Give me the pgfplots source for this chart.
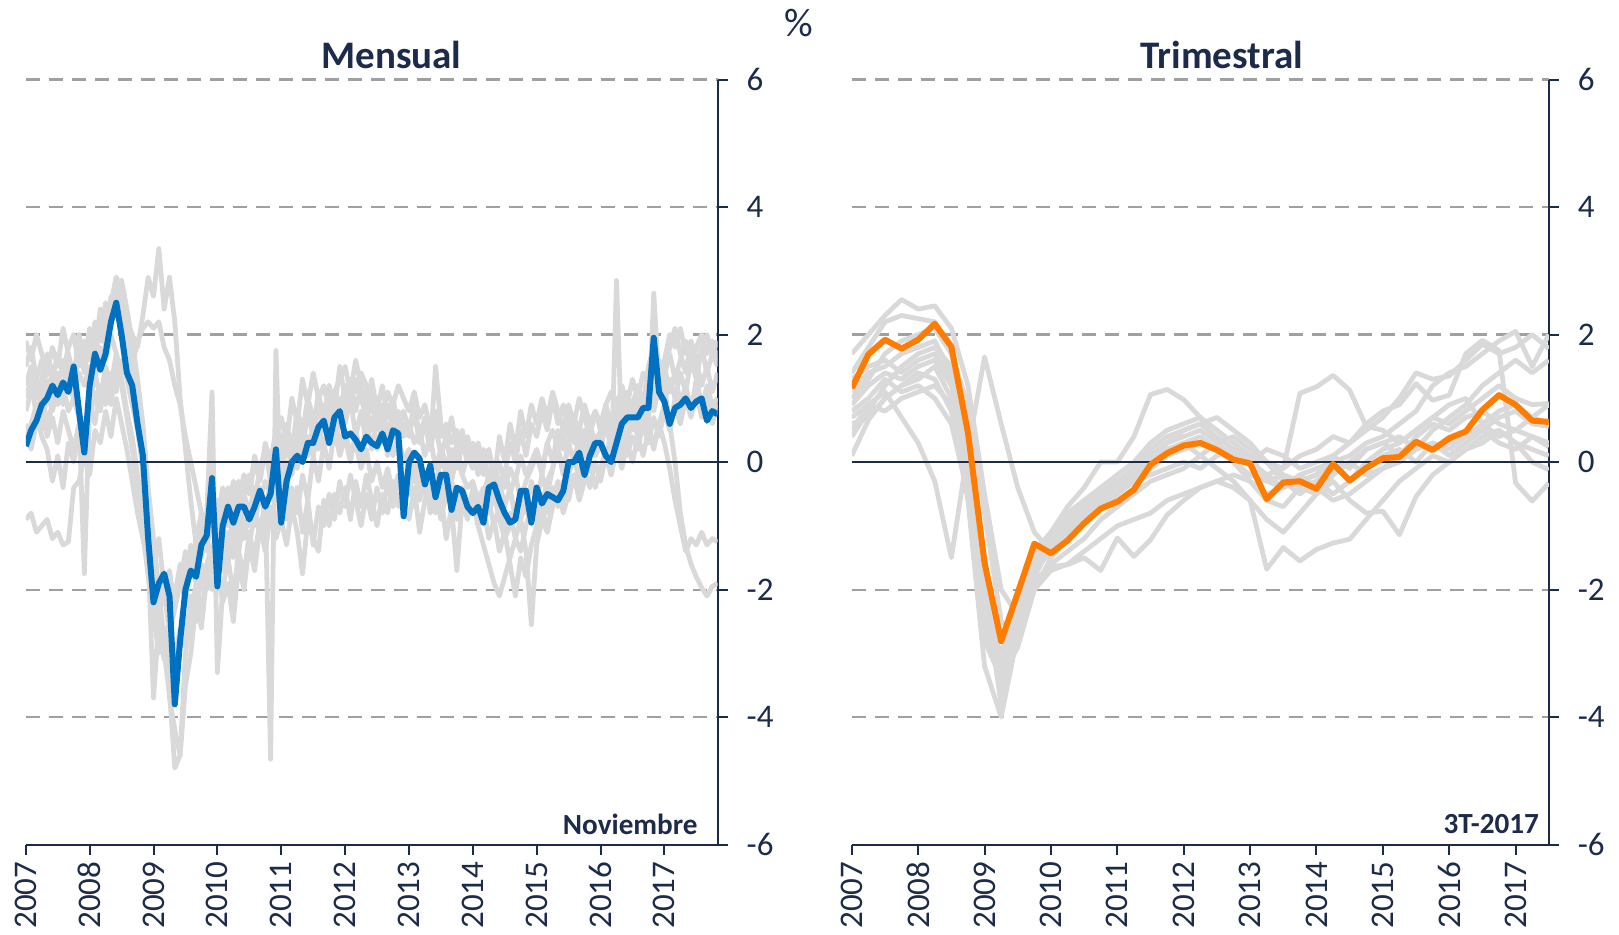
\documentclass[border=0pt]{standalone}
\usepackage{fontspec}
\setmainfont{Carlito}
\usepackage{pgfplots}
\pgfplotsset{compat=1.18}
\definecolor{navy}{HTML}{1D2B4B}
\definecolor{cblue}{HTML}{0070C0}
\definecolor{corange}{HTML}{FF7C00}
\definecolor{glight}{HTML}{D9D9D9}
\definecolor{gridc}{HTML}{A0A0A0}
\pgfplotsset{
 panel/.style={scale only axis, height=382.5pt, ymin=-6, ymax=6,
   axis x line*=bottom, axis y line*=right,
   ytick={-6,-4,-2,0,2,4,6}, yticklabels={-6,-4,-2,0,2,4,6},
   xticklabels={2007,2008,2009,2010,2011,2012,2013,2014,2015,2016,2017},
   tick align=outside, major tick length=5pt,
   ymajorgrids, major grid style={gridc, line width=1.1pt, dash pattern=on 7pt off 4.5pt},
   axis line style={navy, line width=1pt},
   tick style={navy, line width=1pt},
   tick label style={font=\fontsize{16.5}{18}\selectfont, text=navy},
   x tick label style={rotate=90, anchor=east},
   yticklabel style={anchor=west, xshift=6pt},
 },
 gr/.style={glight, line width=2.4pt, line join=round, no markers},
 ml/.style={line width=3pt, line join=round, no markers},
}
\begin{document}
\begin{tikzpicture}
\path[use as bounding box] (0,0) rectangle (809.5pt,467pt);
% ---------------- Mensual ----------------
\begin{axis}[panel, at={(12.9pt,44.7pt)}, anchor=south west, width=345.9pt,
  xmin=0, xmax=130, xtick={0,12,...,120}]
\addplot[gr] table[row sep=\\, x expr=\coordindex, y=v]{v\\
0.8\\1.1\\1.3\\1.0\\1.5\\1.3\\1.7\\1.4\\1.8\\2.0\\1.5\\1.6\\
1.8\\2.0\\1.9\\2.3\\2.5\\2.9\\2.7\\2.2\\2.0\\1.8\\2.3\\2.9\\
2.6\\3.35\\2.4\\2.9\\2.2\\1.0\\0.2\\-0.6\\-1.3\\-1.5\\-0.9\\-1.1\\
-0.6\\-0.9\\-0.4\\-0.8\\-0.3\\-0.5\\-0.2\\-0.6\\-0.1\\0.2\\-0.3\\0.1\\
0.3\\0.6\\0.2\\0.8\\0.5\\1.0\\0.7\\0.4\\0.9\\0.6\\1.1\\0.8\\
1.2\\0.9\\1.3\\1.0\\0.7\\1.1\\0.8\\0.6\\0.9\\0.5\\0.8\\0.4\\
0.6\\0.3\\0.5\\0.1\\0.4\\-0.1\\0.2\\0.0\\-0.3\\0.1\\-0.2\\-0.4\\
-0.3\\-0.6\\-0.4\\-0.8\\-0.5\\-0.9\\-1.2\\-1.0\\-0.7\\-0.9\\-0.6\\-0.8\\
-0.5\\-0.7\\-0.3\\-0.1\\0.2\\-0.1\\0.3\\0.5\\0.1\\0.4\\0.6\\0.3\\
0.5\\0.8\\0.4\\0.7\\1.0\\0.6\\0.9\\1.2\\0.8\\1.1\\1.3\\1.0\\
1.4\\1.7\\1.3\\1.6\\1.9\\1.5\\1.8\\2.0\\1.7\\1.9\\1.6\\};
\addplot[gr] table[row sep=\\, x expr=\coordindex, y=v]{v\\
1.2\\1.5\\1.0\\1.3\\1.7\\1.4\\1.1\\1.6\\1.3\\1.0\\1.4\\1.2\\
1.5\\1.3\\1.8\\1.6\\2.0\\1.7\\1.4\\1.8\\1.5\\1.9\\2.1\\2.2\\
2.1\\2.2\\1.8\\1.6\\1.2\\0.9\\0.4\\0.0\\-0.4\\-0.8\\-1.1\\-0.9\\
-1.2\\-0.8\\-1.0\\-0.7\\-0.9\\-0.5\\-0.8\\-0.4\\-0.6\\-0.3\\-0.5\\-0.2\\
-0.4\\0.0\\-0.2\\0.3\\0.0\\0.4\\0.1\\0.5\\0.2\\0.7\\0.4\\0.6\\
0.9\\1.3\\1.1\\1.4\\1.2\\0.8\\1.0\\0.7\\1.1\\0.9\\1.2\\1.0\\
0.8\\1.1\\0.7\\0.9\\0.5\\0.8\\0.4\\0.6\\0.3\\0.5\\0.2\\0.4\\
0.1\\0.3\\-0.1\\0.2\\-0.2\\0.0\\-0.4\\-0.1\\-0.3\\0.1\\-0.2\\0.0\\
0.2\\-0.1\\0.3\\0.5\\0.2\\0.6\\0.4\\0.7\\0.5\\0.9\\0.6\\0.8\\
0.6\\0.9\\1.1\\0.8\\1.2\\0.9\\1.3\\1.0\\1.4\\1.2\\1.5\\1.3\\
1.6\\2.0\\1.8\\2.1\\1.7\\1.9\\1.5\\1.8\\2.0\\1.7\\1.9\\};
\addplot[gr] table[row sep=\\, x expr=\coordindex, y=v]{v\\
0.3\\0.6\\0.9\\0.5\\1.1\\0.8\\1.2\\0.9\\1.5\\1.2\\1.8\\1.4\\
1.9\\1.6\\2.2\\1.8\\2.4\\2.9\\2.6\\2.0\\1.5\\0.8\\-0.2\\-1.5\\
-3.7\\-2.5\\-3.0\\-3.6\\-4.8\\-4.6\\-3.0\\-2.4\\-1.9\\-2.5\\-1.6\\-1.3\\
-1.5\\-1.0\\-1.4\\-0.8\\-1.2\\-0.6\\-1.0\\-0.7\\-0.4\\-0.8\\-0.3\\-0.6\\
-0.2\\0.3\\-0.1\\0.5\\0.2\\0.8\\0.4\\0.9\\0.5\\1.2\\0.7\\1.0\\
0.6\\1.0\\0.4\\0.8\\0.3\\0.7\\0.2\\0.6\\0.1\\0.5\\0.3\\0.0\\
0.2\\-0.3\\0.1\\-0.5\\-0.2\\-0.7\\-0.3\\-0.6\\-0.4\\-0.9\\-0.5\\-0.8\\
-0.6\\-1.0\\-0.7\\-1.2\\-0.9\\-1.4\\-1.1\\-1.6\\-2.1\\-1.5\\-1.8\\-1.3\\
-1.0\\-0.7\\-1.1\\-0.6\\-0.3\\-0.7\\-0.2\\0.1\\-0.3\\0.2\\0.5\\0.1\\
0.3\\0.0\\0.4\\0.7\\0.3\\0.8\\0.5\\1.0\\0.6\\1.1\\0.8\\1.2\\
0.9\\1.3\\1.0\\1.4\\1.1\\1.6\\1.3\\1.8\\1.4\\1.7\\1.5\\};
\addplot[gr] table[row sep=\\, x expr=\coordindex, y=v]{v\\
-0.9\\-0.8\\-1.1\\-1.0\\-0.9\\-1.2\\-1.1\\-1.3\\-1.25\\-0.4\\-0.3\\0.1\\
-0.2\\0.5\\0.3\\0.8\\0.4\\1.0\\0.6\\0.2\\-0.3\\-0.8\\-1.2\\-1.6\\
-2.0\\-2.6\\-3.1\\-2.7\\-3.3\\-2.9\\-2.4\\-2.8\\-2.0\\-1.6\\-1.9\\-1.4\\
-1.8\\-1.2\\-1.6\\-1.0\\-1.4\\-0.9\\-1.3\\-0.8\\-1.1\\-0.6\\-4.66\\1.75\\
-0.8\\-0.3\\-0.9\\-0.4\\-1.1\\-0.6\\-1.3\\-0.7\\-1.0\\-0.5\\-0.9\\-0.3\\
-0.7\\-0.2\\-0.6\\-1.0\\-0.5\\-0.9\\-0.4\\-0.8\\-0.3\\-0.7\\-0.2\\-0.6\\
-0.9\\-0.4\\-1.1\\-0.6\\-0.3\\-0.8\\-0.5\\-1.2\\-0.7\\-1.7\\-0.6\\-0.9\\
-0.4\\-0.8\\-0.5\\-0.2\\-0.6\\-0.3\\-0.7\\-0.4\\-0.9\\-0.5\\-0.8\\-0.3\\
-0.6\\-0.2\\-0.5\\-0.1\\0.2\\-0.2\\0.3\\0.0\\0.4\\0.1\\0.5\\0.2\\
0.4\\0.0\\0.5\\0.2\\0.6\\0.3\\0.7\\0.4\\0.8\\0.5\\0.3\\0.6\\
0.3\\-0.1\\-0.6\\-1.0\\-1.4\\-1.2\\-1.3\\-1.1\\-1.3\\-1.2\\-1.25\\};
\addplot[gr] table[row sep=\\, x expr=\coordindex, y=v]{v\\
0.5\\0.2\\0.6\\0.9\\0.4\\0.7\\0.3\\0.8\\0.5\\0.2\\0.6\\0.4\\
0.9\\0.6\\1.2\\0.9\\1.4\\1.1\\1.6\\1.3\\0.9\\0.5\\-0.1\\-0.8\\
-1.6\\-1.2\\-2.0\\-1.7\\-2.3\\-1.9\\-1.4\\-1.8\\-1.2\\-0.8\\-1.1\\-0.6\\
-0.9\\-0.4\\-0.8\\-0.3\\-0.6\\-0.2\\-0.5\\0.0\\-0.3\\0.2\\-0.1\\0.3\\
0.0\\0.5\\0.2\\0.7\\0.3\\0.9\\0.5\\1.1\\0.6\\1.2\\0.8\\1.5\\
1.0\\1.3\\0.8\\1.2\\0.6\\1.0\\0.5\\0.9\\0.4\\0.8\\0.3\\0.6\\
0.4\\0.8\\0.3\\0.6\\0.2\\1.5\\0.6\\0.3\\0.7\\0.2\\0.5\\0.1\\
0.3\\-0.1\\0.2\\-0.3\\0.0\\-0.5\\-0.2\\0.3\\0.0\\0.5\\0.1\\0.6\\
0.4\\0.8\\0.5\\1.0\\0.6\\0.9\\0.4\\0.7\\0.2\\0.5\\0.1\\0.4\\
0.2\\0.6\\0.3\\0.8\\0.5\\1.0\\0.7\\1.2\\0.9\\1.5\\1.8\\1.5\\
1.2\\0.6\\0.0\\-0.8\\-1.3\\-1.6\\-1.8\\-1.97\\-2.1\\-1.95\\-1.9\\};
\addplot[gr] table[row sep=\\, x expr=\coordindex, y=v]{v\\
1.5\\1.8\\1.3\\1.6\\1.1\\1.4\\0.9\\1.2\\0.8\\1.0\\0.7\\-1.75\\
0.9\\1.4\\1.0\\1.5\\1.2\\1.7\\1.3\\0.8\\0.4\\-0.2\\-0.8\\-1.4\\
-1.9\\-2.4\\-2.0\\-2.7\\-2.3\\-1.8\\-2.2\\-1.5\\-1.9\\-1.2\\-0.8\\1.1\\
-3.3\\-2.0\\-1.5\\-2.1\\-1.4\\-1.8\\-1.1\\-1.5\\-0.9\\-1.3\\-0.7\\-1.0\\
-0.6\\-0.9\\-0.4\\-0.8\\-0.2\\-0.6\\0.1\\-0.3\\0.3\\-0.1\\0.5\\0.1\\
0.4\\0.0\\0.5\\0.1\\0.6\\0.2\\0.7\\0.3\\0.5\\0.1\\0.4\\0.0\\
0.2\\-0.2\\0.1\\-0.4\\-0.1\\-0.5\\-0.2\\-0.6\\-0.3\\-0.7\\-0.4\\-0.6\\
-0.8\\-0.5\\-0.9\\-0.6\\-1.0\\-0.7\\-1.1\\-0.8\\-1.2\\-0.9\\-1.4\\-2.55\\
-1.3\\-0.9\\-1.1\\-0.7\\-0.4\\-0.8\\-0.5\\-0.2\\-0.6\\-0.3\\0.0\\-0.4\\
-0.1\\0.2\\-0.2\\2.85\\0.3\\0.1\\0.4\\0.2\\0.6\\0.3\\0.7\\0.4\\
0.8\\0.5\\0.9\\0.6\\1.0\\0.7\\1.1\\0.8\\1.2\\0.9\\1.0\\};
\addplot[gr] table[row sep=\\, x expr=\coordindex, y=v]{v\\
1.0\\1.3\\0.7\\1.1\\0.6\\0.9\\1.4\\1.1\\1.7\\1.3\\2.0\\1.6\\
2.1\\1.7\\2.4\\2.0\\2.6\\2.3\\2.85\\2.4\\1.9\\1.3\\0.6\\-0.4\\
-1.2\\-2.0\\-2.8\\-3.7\\-4.2\\-4.6\\-3.5\\-3.0\\-2.2\\-2.6\\-1.8\\-2.0\\
-1.4\\-1.7\\-1.1\\-1.5\\-0.9\\-1.2\\-0.7\\-1.0\\-0.5\\-0.8\\-0.3\\-0.6\\
-0.1\\-0.4\\0.2\\-0.1\\0.4\\0.1\\0.6\\0.2\\0.8\\0.4\\0.7\\0.3\\
0.5\\0.1\\0.3\\-0.1\\0.2\\-0.3\\0.0\\-0.4\\-0.1\\-0.5\\-0.2\\-0.6\\
-0.3\\-0.7\\-0.2\\-0.5\\-0.1\\-0.4\\0.1\\-0.2\\0.2\\-0.1\\0.3\\0.0\\
0.2\\-0.2\\0.1\\-0.3\\0.0\\-0.4\\-0.1\\-0.5\\-0.2\\-0.6\\-0.3\\-0.1\\
0.1\\-0.2\\0.3\\0.0\\0.5\\0.2\\0.7\\0.3\\0.6\\0.2\\0.5\\0.1\\
0.3\\0.6\\0.2\\0.5\\0.1\\0.4\\0.7\\0.5\\0.9\\0.6\\2.65\\1.2\\
1.5\\1.1\\1.4\\0.9\\1.2\\0.8\\1.1\\0.7\\1.0\\0.6\\0.9\\};
\addplot[gr] table[row sep=\\, x expr=\coordindex, y=v]{v\\
0.6\\0.3\\0.8\\0.4\\0.2\\-0.3\\0.1\\-0.4\\0.3\\0.0\\0.5\\0.2\\
0.7\\1.1\\0.8\\1.3\\0.9\\1.5\\1.2\\0.7\\0.2\\-0.4\\-1.1\\-1.8\\
-2.4\\-3.0\\-2.6\\-3.5\\-3.1\\-2.6\\-2.9\\-2.1\\-2.5\\-1.7\\-2.0\\-1.5\\
-1.7\\-2.2\\-1.9\\-2.5\\-1.6\\-2.0\\-1.3\\-1.7\\-1.0\\-1.4\\-0.8\\-1.2\\
-0.9\\-1.3\\-0.7\\-1.1\\-1.75\\-0.9\\-1.2\\-1.4\\-0.6\\-1.0\\-0.5\\-0.8\\
-0.4\\-0.9\\-0.3\\-0.7\\-0.2\\-0.6\\-1.0\\-0.5\\-0.8\\-0.3\\-0.7\\-0.2\\
-0.5\\-0.1\\-0.6\\-0.2\\-0.8\\-0.4\\-0.9\\-0.5\\-0.3\\-0.7\\-0.4\\-0.8\\
-0.6\\-1.0\\-1.3\\-1.6\\-1.9\\-2.1\\-1.8\\-1.5\\-1.2\\-1.4\\-1.0\\-0.7\\
-0.9\\-0.5\\-0.8\\-0.4\\-0.7\\-0.3\\-0.6\\-0.2\\-0.5\\-0.1\\-0.4\\0.0\\
-0.3\\0.1\\-0.2\\0.2\\-0.1\\0.3\\0.0\\0.4\\0.1\\0.5\\0.2\\0.6\\
0.9\\0.5\\1.0\\0.6\\1.2\\0.8\\1.3\\0.9\\1.1\\0.7\\1.0\\};
\addplot[gr] table[row sep=\\, x expr=\coordindex, y=v]{v\\
1.9\\1.6\\2.0\\1.7\\1.4\\1.8\\1.5\\2.1\\1.7\\1.3\\1.6\\1.9\\
1.6\\2.2\\1.9\\2.5\\2.1\\2.7\\2.3\\1.8\\1.4\\1.0\\0.4\\-0.6\\
-1.5\\-2.2\\-1.8\\-2.6\\-2.1\\-1.6\\-1.9\\-1.3\\-1.7\\-1.0\\-1.4\\-0.8\\
-1.1\\-0.6\\-0.9\\-0.4\\-0.7\\-0.2\\-0.5\\0.1\\-0.3\\0.3\\0.0\\0.5\\
0.7\\0.3\\1.0\\0.6\\1.3\\0.9\\1.4\\1.0\\1.2\\0.8\\1.1\\1.3\\
1.5\\1.1\\1.6\\1.2\\0.9\\1.3\\0.8\\1.2\\0.7\\1.0\\0.5\\0.8\\
0.5\\0.9\\0.4\\0.7\\0.2\\0.6\\0.1\\0.4\\-0.1\\0.3\\-0.2\\0.1\\
-0.1\\0.3\\-0.2\\0.2\\-0.3\\0.4\\0.0\\0.6\\0.2\\0.8\\0.4\\0.9\\
0.6\\1.0\\0.7\\1.1\\0.8\\0.5\\0.9\\0.6\\1.0\\0.7\\0.4\\0.8\\
0.5\\0.9\\0.6\\1.0\\0.7\\1.1\\0.8\\0.5\\0.9\\1.3\\1.0\\1.6\\
1.3\\1.8\\2.1\\1.7\\1.4\\1.9\\1.6\\1.2\\1.5\\1.1\\1.4\\};
\addplot[navy, line width=0.8pt, forget plot] coordinates {(0,0) (130,0)};
\addplot[ml, cblue] table[row sep=\\, x expr=\coordindex, y=v]{v\\
0.25\\0.5\\0.65\\0.9\\1.0\\1.2\\1.05\\1.25\\1.1\\1.5\\0.8\\0.15\\
1.2\\1.7\\1.45\\1.7\\2.2\\2.5\\2.0\\1.4\\1.2\\0.6\\0.1\\-1.2\\
-2.2\\-1.9\\-1.75\\-2.1\\-3.8\\-2.8\\-2.0\\-1.7\\-1.8\\-1.3\\-1.15\\-0.25\\
-1.95\\-1.0\\-0.7\\-0.95\\-0.7\\-0.7\\-0.9\\-0.7\\-0.45\\-0.7\\-0.5\\0.2\\
-0.95\\-0.3\\0.0\\0.1\\0.0\\0.3\\0.3\\0.55\\0.65\\0.3\\0.7\\0.8\\
0.4\\0.45\\0.35\\0.2\\0.4\\0.3\\0.25\\0.45\\0.2\\0.5\\0.45\\-0.85\\
0.0\\0.15\\0.05\\-0.35\\-0.05\\-0.55\\-0.2\\-0.2\\-0.75\\-0.4\\-0.45\\-0.7\\
-0.8\\-0.7\\-0.95\\-0.4\\-0.35\\-0.6\\-0.8\\-0.95\\-0.9\\-0.45\\-0.45\\-0.95\\
-0.4\\-0.65\\-0.5\\-0.55\\-0.6\\-0.45\\0.0\\0.0\\0.15\\-0.2\\0.1\\0.3\\
0.3\\0.1\\0.0\\0.3\\0.6\\0.7\\0.7\\0.7\\0.85\\0.85\\1.95\\1.1\\
0.95\\0.6\\0.85\\0.9\\1.0\\0.85\\0.95\\1.0\\0.65\\0.8\\0.75\\};
\end{axis}
% ---------------- Trimestral ----------------
\begin{axis}[panel, at={(425.9pt,44.7pt)}, anchor=south west, width=348.5pt,
  xmin=0, xmax=42, xtick={0,4,...,40}]
\addplot[gr] table[row sep=\\, x expr=\coordindex, y=v]{v\\
1.7\\2.0\\2.3\\2.55\\2.4\\2.45\\2.1\\1.2\\-0.5\\-2.0\\-2.4\\-1.7\\-1.3\\-1.0\\-0.7\\-0.4\\-0.2\\0.0\\0.3\\0.5\\0.6\\0.7\\0.5\\0.3\\0.1\\-0.3\\-0.4\\-0.2\\-0.1\\0.0\\0.1\\0.3\\0.4\\0.6\\0.8\\1.2\\1.4\\1.5\\1.7\\1.9\\2.05\\1.5\\2.0\\};
\addplot[gr] table[row sep=\\, x expr=\coordindex, y=v]{v\\
1.4\\1.8\\2.2\\2.3\\2.25\\2.2\\1.7\\0.6\\-1.5\\-3.3\\-2.5\\-1.6\\-1.2\\-0.9\\-0.6\\-0.4\\-0.3\\-0.1\\0.2\\0.4\\0.5\\0.6\\0.7\\0.5\\0.3\\0.0\\-0.2\\-0.3\\-0.2\\0.1\\0.3\\0.5\\0.7\\1.0\\1.4\\1.3\\1.35\\1.6\\1.85\\1.7\\1.8\\2.0\\1.78\\};
\addplot[gr] table[row sep=\\, x expr=\coordindex, y=v]{v\\
1.1\\1.4\\1.5\\1.7\\1.8\\1.9\\1.4\\0.3\\-1.8\\-3.6\\-2.2\\-1.4\\-1.1\\-0.8\\-0.6\\-0.5\\-0.3\\-0.1\\0.1\\0.3\\0.4\\0.5\\0.3\\0.1\\0.0\\-0.2\\-0.1\\0.1\\0.2\\0.4\\0.3\\0.6\\0.8\\0.9\\1.23\\0.97\\1.05\\1.7\\1.91\\1.75\\-0.33\\-0.61\\-0.33\\};
\addplot[gr] table[row sep=\\, x expr=\coordindex, y=v]{v\\
0.5\\0.9\\1.1\\0.7\\0.3\\-0.3\\-1.5\\0.2\\1.65\\0.6\\-0.4\\-1.1\\-1.4\\-1.2\\-0.9\\-0.7\\-0.5\\-0.3\\0.0\\0.2\\0.3\\0.1\\-0.1\\-0.3\\-0.6\\-0.9\\-1.1\\-0.8\\-0.5\\-0.2\\0.0\\0.2\\0.3\\0.1\\0.4\\0.6\\0.5\\0.7\\0.8\\0.6\\0.5\\0.4\\0.3\\};
\addplot[gr] table[row sep=\\, x expr=\coordindex, y=v]{v\\
0.9\\1.2\\1.4\\1.3\\1.5\\1.6\\1.2\\0.1\\-2.0\\-3.8\\-2.6\\-1.5\\-1.1\\-0.7\\-0.4\\0.0\\0.0\\0.4\\1.06\\1.14\\0.98\\0.7\\0.3\\0.0\\-0.3\\-0.6\\-0.7\\-0.4\\-0.3\\-0.5\\-0.3\\0.0\\0.2\\0.3\\0.5\\0.7\\0.9\\1.0\\0.6\\0.4\\0.5\\0.7\\0.9\\};
\addplot[gr] table[row sep=\\, x expr=\coordindex, y=v]{v\\
0.1\\0.66\\1.0\\1.2\\1.4\\1.3\\0.8\\-0.6\\-3.2\\-4.0\\-2.7\\-1.9\\-1.6\\-1.4\\-1.2\\-0.9\\-0.7\\-0.5\\-0.3\\-0.2\\-0.1\\0.1\\0.3\\0.4\\0.2\\0.0\\-0.3\\-0.5\\-0.3\\-0.1\\0.0\\-0.2\\-0.1\\0.1\\0.3\\0.2\\0.3\\0.4\\0.6\\0.8\\0.9\\0.7\\0.6\\};
\addplot[gr] table[row sep=\\, x expr=\coordindex, y=v]{v\\
0.8\\1.0\\1.3\\1.1\\1.2\\1.0\\0.6\\-0.5\\-2.5\\-3.5\\-2.8\\-2.0\\-1.7\\-1.6\\-1.4\\-1.2\\-1.0\\-0.9\\-0.8\\-0.6\\-0.5\\-0.4\\-0.3\\-0.4\\-0.6\\-1.68\\-1.34\\-1.55\\-1.37\\-1.27\\-1.21\\-0.9\\-0.6\\-0.3\\-0.1\\0.1\\0.0\\0.2\\0.4\\0.5\\0.3\\0.2\\0.1\\};
\addplot[gr] table[row sep=\\, x expr=\coordindex, y=v]{v\\
1.3\\1.5\\1.6\\1.4\\1.6\\1.7\\1.3\\0.2\\-2.2\\-3.2\\-2.4\\-1.7\\-1.4\\-1.1\\-0.8\\-0.6\\-0.4\\-0.2\\0.1\\0.3\\0.5\\0.6\\0.4\\0.2\\0.1\\0.0\\-0.1\\1.08\\1.18\\1.36\\1.13\\0.56\\0.5\\0.3\\0.5\\0.7\\0.6\\0.8\\1.0\\1.2\\1.0\\0.9\\0.92\\};
\addplot[gr] table[row sep=\\, x expr=\coordindex, y=v]{v\\
0.7\\0.9\\0.8\\1.0\\1.1\\1.2\\0.9\\-0.2\\-2.8\\-3.4\\-2.6\\-1.8\\-1.3\\-1.0\\-0.8\\-0.5\\-0.3\\-0.2\\0.0\\0.2\\0.3\\0.4\\0.2\\0.0\\-0.2\\-0.3\\-0.2\\-0.4\\-0.5\\-0.3\\-0.6\\-0.8\\-0.77\\-1.14\\-0.54\\-0.2\\0.0\\0.2\\0.3\\0.5\\0.3\\0.0\\-0.12\\};
\addplot[gr] table[row sep=\\, x expr=\coordindex, y=v]{v\\
0.4\\0.8\\1.2\\1.5\\1.7\\1.8\\1.5\\0.4\\-1.7\\-3.4\\-2.9\\-2.0\\-1.5\\-1.2\\-0.9\\-0.7\\-0.5\\-0.3\\-0.1\\0.1\\0.2\\0.3\\0.2\\0.1\\0.0\\0.2\\0.1\\-0.1\\0.0\\0.1\\-0.1\\0.2\\0.3\\0.4\\0.2\\0.5\\0.7\\0.9\\1.2\\1.4\\1.6\\1.4\\1.6\\};
\addplot[gr] table[row sep=\\, x expr=\coordindex, y=v]{v\\
1.0\\1.3\\1.7\\1.9\\2.0\\2.1\\1.7\\0.9\\-0.8\\-2.5\\-2.7\\-1.85\\-1.64\\-1.61\\-1.5\\-1.7\\-1.19\\-1.48\\-1.22\\-0.83\\-0.6\\-0.4\\-0.3\\-0.2\\-0.3\\-0.5\\-0.4\\-0.2\\-0.4\\-0.6\\-0.5\\-0.3\\-0.1\\0.0\\0.2\\0.3\\0.2\\0.4\\0.5\\0.7\\0.8\\0.6\\0.56\\};
\addplot[gr] table[row sep=\\, x expr=\coordindex, y=v]{v\\
0.6\\0.7\\1.0\\1.2\\1.3\\1.5\\1.0\\-0.1\\-2.4\\-3.0\\-2.2\\-1.6\\-1.2\\-1.1\\-0.9\\-0.6\\-0.4\\-0.3\\-0.2\\-0.1\\0.0\\-0.1\\0.1\\0.2\\0.0\\-0.2\\-0.4\\-0.3\\-0.2\\0.0\\-0.3\\-0.1\\0.1\\0.2\\0.0\\0.3\\0.1\\0.3\\0.5\\0.3\\0.2\\0.4\\0.24\\};
\addplot[navy, line width=0.8pt, forget plot] coordinates {(0,0) (42,0)};
\addplot[ml, corange] table[row sep=\\, x expr=\coordindex, y=v]{v\\
1.16\\1.69\\1.92\\1.78\\1.92\\2.17\\1.81\\0.46\\-1.58\\-2.81\\-2.05\\-1.28\\-1.43\\-1.23\\-0.96\\-0.73\\-0.62\\-0.43\\-0.04\\0.14\\0.26\\0.3\\0.19\\0.04\\-0.02\\-0.58\\-0.32\\-0.3\\-0.42\\-0.03\\-0.29\\-0.09\\0.06\\0.08\\0.32\\0.19\\0.375\\0.48\\0.82\\1.05\\0.9\\0.65\\0.63\\};
\end{axis}
\node[font=\bfseries\fontsize{19.5}{22}\selectfont, text=navy] at (195.7pt,439.6pt) {Mensual};
\node[font=\bfseries\fontsize{19.5}{22}\selectfont, text=navy] at (610.8pt,439.6pt) {Trimestral};
\node[font=\fontsize{20}{22}\selectfont, text=navy] at (399.6pt,455.6pt) {\%};
\node[font=\bfseries\fontsize{14.6}{16}\selectfont, text=navy, anchor=east, inner sep=0pt] at (349pt,55pt) {Noviembre};
\node[font=\bfseries\fontsize{14.6}{16}\selectfont, text=navy, anchor=east, inner sep=0pt] at (769.7pt,55pt) {3T-2017};
\end{tikzpicture}
\end{document}
